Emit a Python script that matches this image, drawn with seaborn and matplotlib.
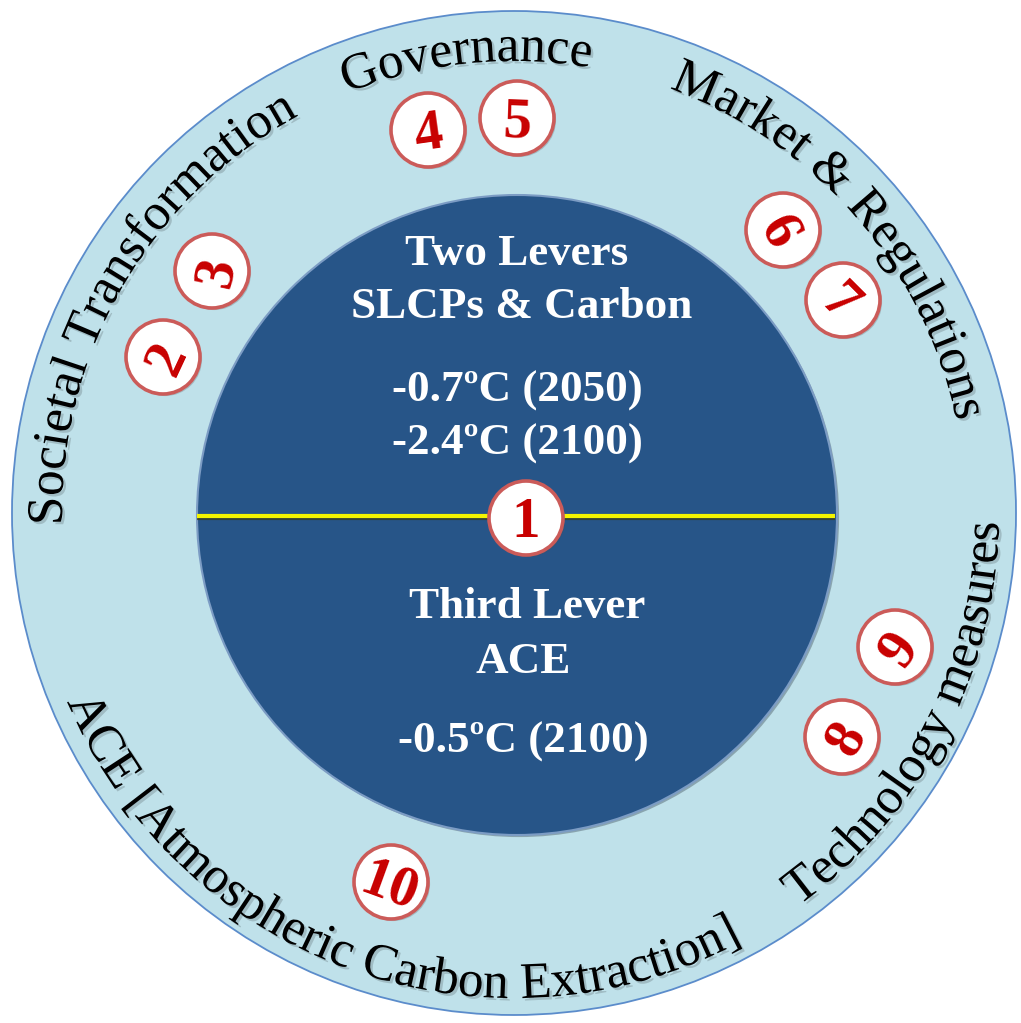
import numpy as np
import matplotlib
matplotlib.use("Agg")
import matplotlib.pyplot as plt
import matplotlib.patheffects as pe
import seaborn as sns
from matplotlib.patches import Circle
from matplotlib.font_manager import FontProperties, findfont
from matplotlib.ft2font import FT2Font

# ring labels, read clockwise (tops outward) or counter-clockwise (tops inward)
ring_labels = ["Societal Transformation", "Governance", "Market & Regulations",
               "Technology measures", "ACE [Atmospheric Carbon Extraction]"]
ring_centre_deg = [150, 96, 40.8, -27.6, 250.5]
ring_outward = [True, True, True, False, False]

# text inside the hub
hub_upper = ["Two Levers", "SLCPs & Carbon", "-0.7ºC (2050)", "-2.4ºC (2100)"]
hub_lower = ["Third Lever", "ACE", "-0.5ºC (2100)"]

# numbered badges
badge_numbers = ["1", "2", "3", "4", "5", "6", "7", "8", "9", "10"]
badge_x = [526, 163, 212, 428, 517, 783, 843, 842, 895, 391]
badge_y = [518, 357, 271, 130, 118, 230, 300, 737, 647, 882]
badge_rot = [0, 65, 78, 8, -2, -62, -45, 60, 55, -20]

sns.set_theme(style="white")
plt.rcParams["font.family"] = ["Liberation Serif", "DejaVu Serif"]

W, H = 1021, 1023
fig = plt.figure(figsize=(W / 100, H / 100), dpi=100)
ax = fig.add_axes([0, 0, 1, 1])
ax.set_xlim(0, W)
ax.set_ylim(H, 0)
ax.axis("off")

shadow = [pe.SimplePatchShadow(offset=(1.8, -1.8), shadow_rgbFace="black", alpha=0.16), pe.Normal()]

# outer ring and hub
ocx, ocy, orad = 514, 513, 502
ax.add_patch(Circle((ocx, ocy), orad, facecolor="#bfe1ea", edgecolor="#5b8ccb", lw=1.3, zorder=1))
hcx, hcy, hrad = 517, 515, 320
ax.add_patch(Circle((hcx, hcy), hrad, facecolor="#275588", edgecolor="#7c9cc4", lw=1.5, zorder=2,
                    path_effects=[pe.SimplePatchShadow(offset=(1.5, -1.5), alpha=0.3), pe.Normal()]))
ax.plot([hcx - hrad, hcx + hrad - 2], [516, 516], color="#f4f400", lw=3, zorder=3,
        solid_capstyle="butt",
        path_effects=[pe.SimpleLineShadow(offset=(0, -1.5), shadow_color="#3a3a10", alpha=0.7), pe.Normal()])

# curved labels
ring_pt = 37
font = FT2Font(findfont(FontProperties(family="Liberation Serif")))
font.set_size(ring_pt, 100)


def advances(s):
    return np.array([font.load_char(ord(c)).linearHoriAdvance / 65536 for c in s])


for label, centre, outward in zip(ring_labels, ring_centre_deg, ring_outward):
    r = 452 if outward else 485
    adv = advances(label)
    span = np.degrees(adv.sum() / r)
    mids = np.cumsum(adv) - adv / 2
    for ch, m in zip(label, mids):
        if ch == " ":
            continue
        if outward:
            th = centre + span / 2 - np.degrees(m / r)
            rot = th - 90
        else:
            th = centre - span / 2 + np.degrees(m / r)
            rot = th + 90
        t = np.radians(th)
        ax.text(ocx + r * np.cos(t), ocy - r * np.sin(t), ch, rotation=rot, rotation_mode="anchor",
                ha="center", va="baseline", fontsize=ring_pt, color="black",
                path_effects=shadow, zorder=4)

# hub text
upper_base = [265, 318, 402, 455]
lower_base = [618, 673, 753]
upper_x = [517, 522, 517, 517]
lower_x = [527, 523, 523]
for txt, x, y in zip(hub_upper + hub_lower, upper_x + lower_x, upper_base + lower_base):
    ax.text(x, y, txt, ha="center", va="baseline", fontsize=32.5, fontweight="bold",
            color="white", zorder=4)

# badges
num_pt = 41
half_h = 0.34 * num_pt * 100 / 72
for num, x, y, rot in zip(badge_numbers, badge_x, badge_y, badge_rot):
    ax.add_patch(Circle((x, y), 37, facecolor="white", edgecolor="#cb5b59", lw=2.6, zorder=5,
                        path_effects=[pe.SimplePatchShadow(offset=(1.5, -1.5), alpha=0.25), pe.Normal()]))
    a = np.radians(rot)
    ax.text(x + half_h * np.sin(a), y + half_h * np.cos(a), num, rotation=rot, rotation_mode="anchor",
            ha="center", va="baseline", fontsize=num_pt, fontweight="bold", color="#c80000", zorder=6)

fig.savefig("out.png", dpi=100, facecolor="white")
